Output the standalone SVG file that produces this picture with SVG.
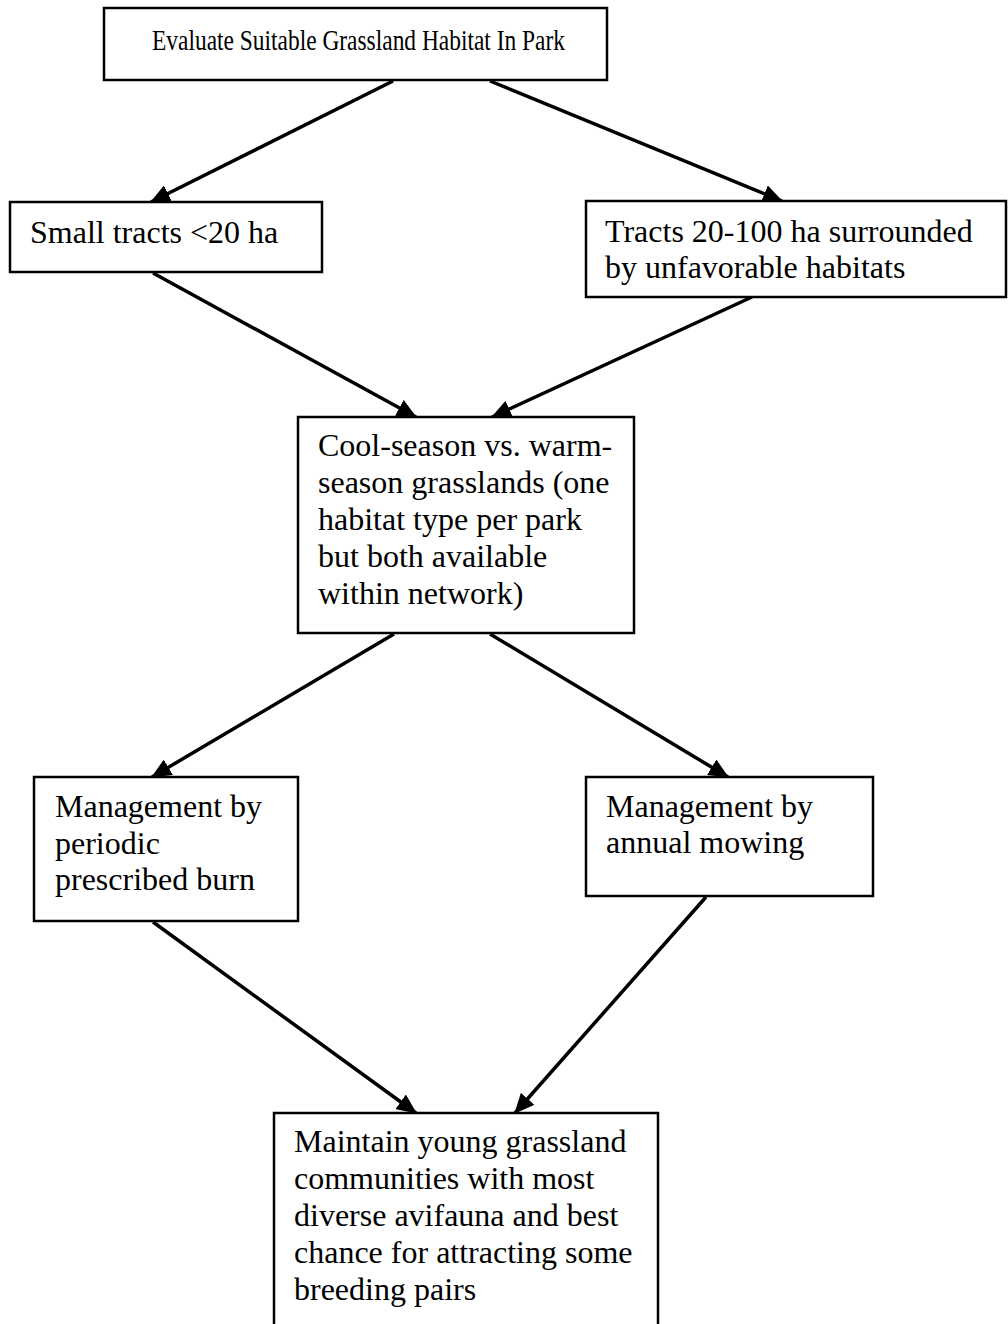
<svg xmlns="http://www.w3.org/2000/svg" width="1008" height="1324" viewBox="0 0 1008 1324">
<style>
.box{fill:#fff;stroke:#000;stroke-width:2.5}
.lbl{font-family:"Liberation Serif","Times New Roman",serif;font-size:32px;fill:#000}
.edge{stroke:#000;stroke-width:3.5;fill:none;marker-end:url(#ah)}
</style>
<defs>
<marker id="ah" markerUnits="userSpaceOnUse" viewBox="0 0 20 18" refX="19" refY="9" markerWidth="20" markerHeight="18" orient="auto">
<path d="M0,0 L20,9 L0,18 Z" fill="#000"/>
</marker>
</defs>
<rect width="1008" height="1324" fill="#fff"/>
<g id="connectors">
<line class="edge" x1="393" y1="81" x2="151" y2="202"/>
<line class="edge" x1="490" y1="81" x2="782" y2="201"/>
<line class="edge" x1="153" y1="273" x2="416" y2="417"/>
<line class="edge" x1="752" y1="297" x2="492" y2="417"/>
<line class="edge" x1="394" y1="634" x2="152" y2="777"/>
<line class="edge" x1="490" y1="634" x2="728" y2="777"/>
<line class="edge" x1="153" y1="922" x2="416" y2="1113"/>
<line class="edge" x1="706" y1="897" x2="515" y2="1113"/>
</g>
<g id="n1">
<rect class="box" x="104" y="8" width="503" height="72"/>
<text class="lbl" x="152" y="50" style="font-size:29px" textLength="413" lengthAdjust="spacingAndGlyphs">Evaluate Suitable Grassland Habitat In Park</text>
</g>
<g id="n2">
<rect class="box" x="10" y="202" width="312" height="70"/>
<text class="lbl" x="30" y="243">Small tracts &lt;20 ha</text>
</g>
<g id="n3">
<rect class="box" x="586" y="201" width="420" height="96"/>
<text class="lbl" x="605" y="242">Tracts 20-100 ha surrounded</text>
<text class="lbl" x="605" y="278">by unfavorable habitats</text>
</g>
<g id="n4">
<rect class="box" x="298" y="417" width="336" height="216"/>
<text class="lbl" x="318" y="456">Cool-season vs. warm-</text>
<text class="lbl" x="318" y="493">season grasslands (one</text>
<text class="lbl" x="318" y="530">habitat type per park</text>
<text class="lbl" x="318" y="567">but both available</text>
<text class="lbl" x="318" y="604">within network)</text>
</g>
<g id="n5">
<rect class="box" x="34" y="777" width="264" height="144"/>
<text class="lbl" x="55" y="817">Management by</text>
<text class="lbl" x="55" y="854">periodic</text>
<text class="lbl" x="55" y="890">prescribed burn</text>
</g>
<g id="n6">
<rect class="box" x="586" y="777" width="287" height="119"/>
<text class="lbl" x="606" y="817">Management by</text>
<text class="lbl" x="606" y="853">annual mowing</text>
</g>
<g id="n7">
<rect class="box" x="274" y="1113" width="384" height="220"/>
<text class="lbl" x="294" y="1152">Maintain young grassland</text>
<text class="lbl" x="294" y="1189">communities with most</text>
<text class="lbl" x="294" y="1226">diverse avifauna and best</text>
<text class="lbl" x="294" y="1263">chance for attracting some</text>
<text class="lbl" x="294" y="1300">breeding pairs</text>
</g>
</svg>
